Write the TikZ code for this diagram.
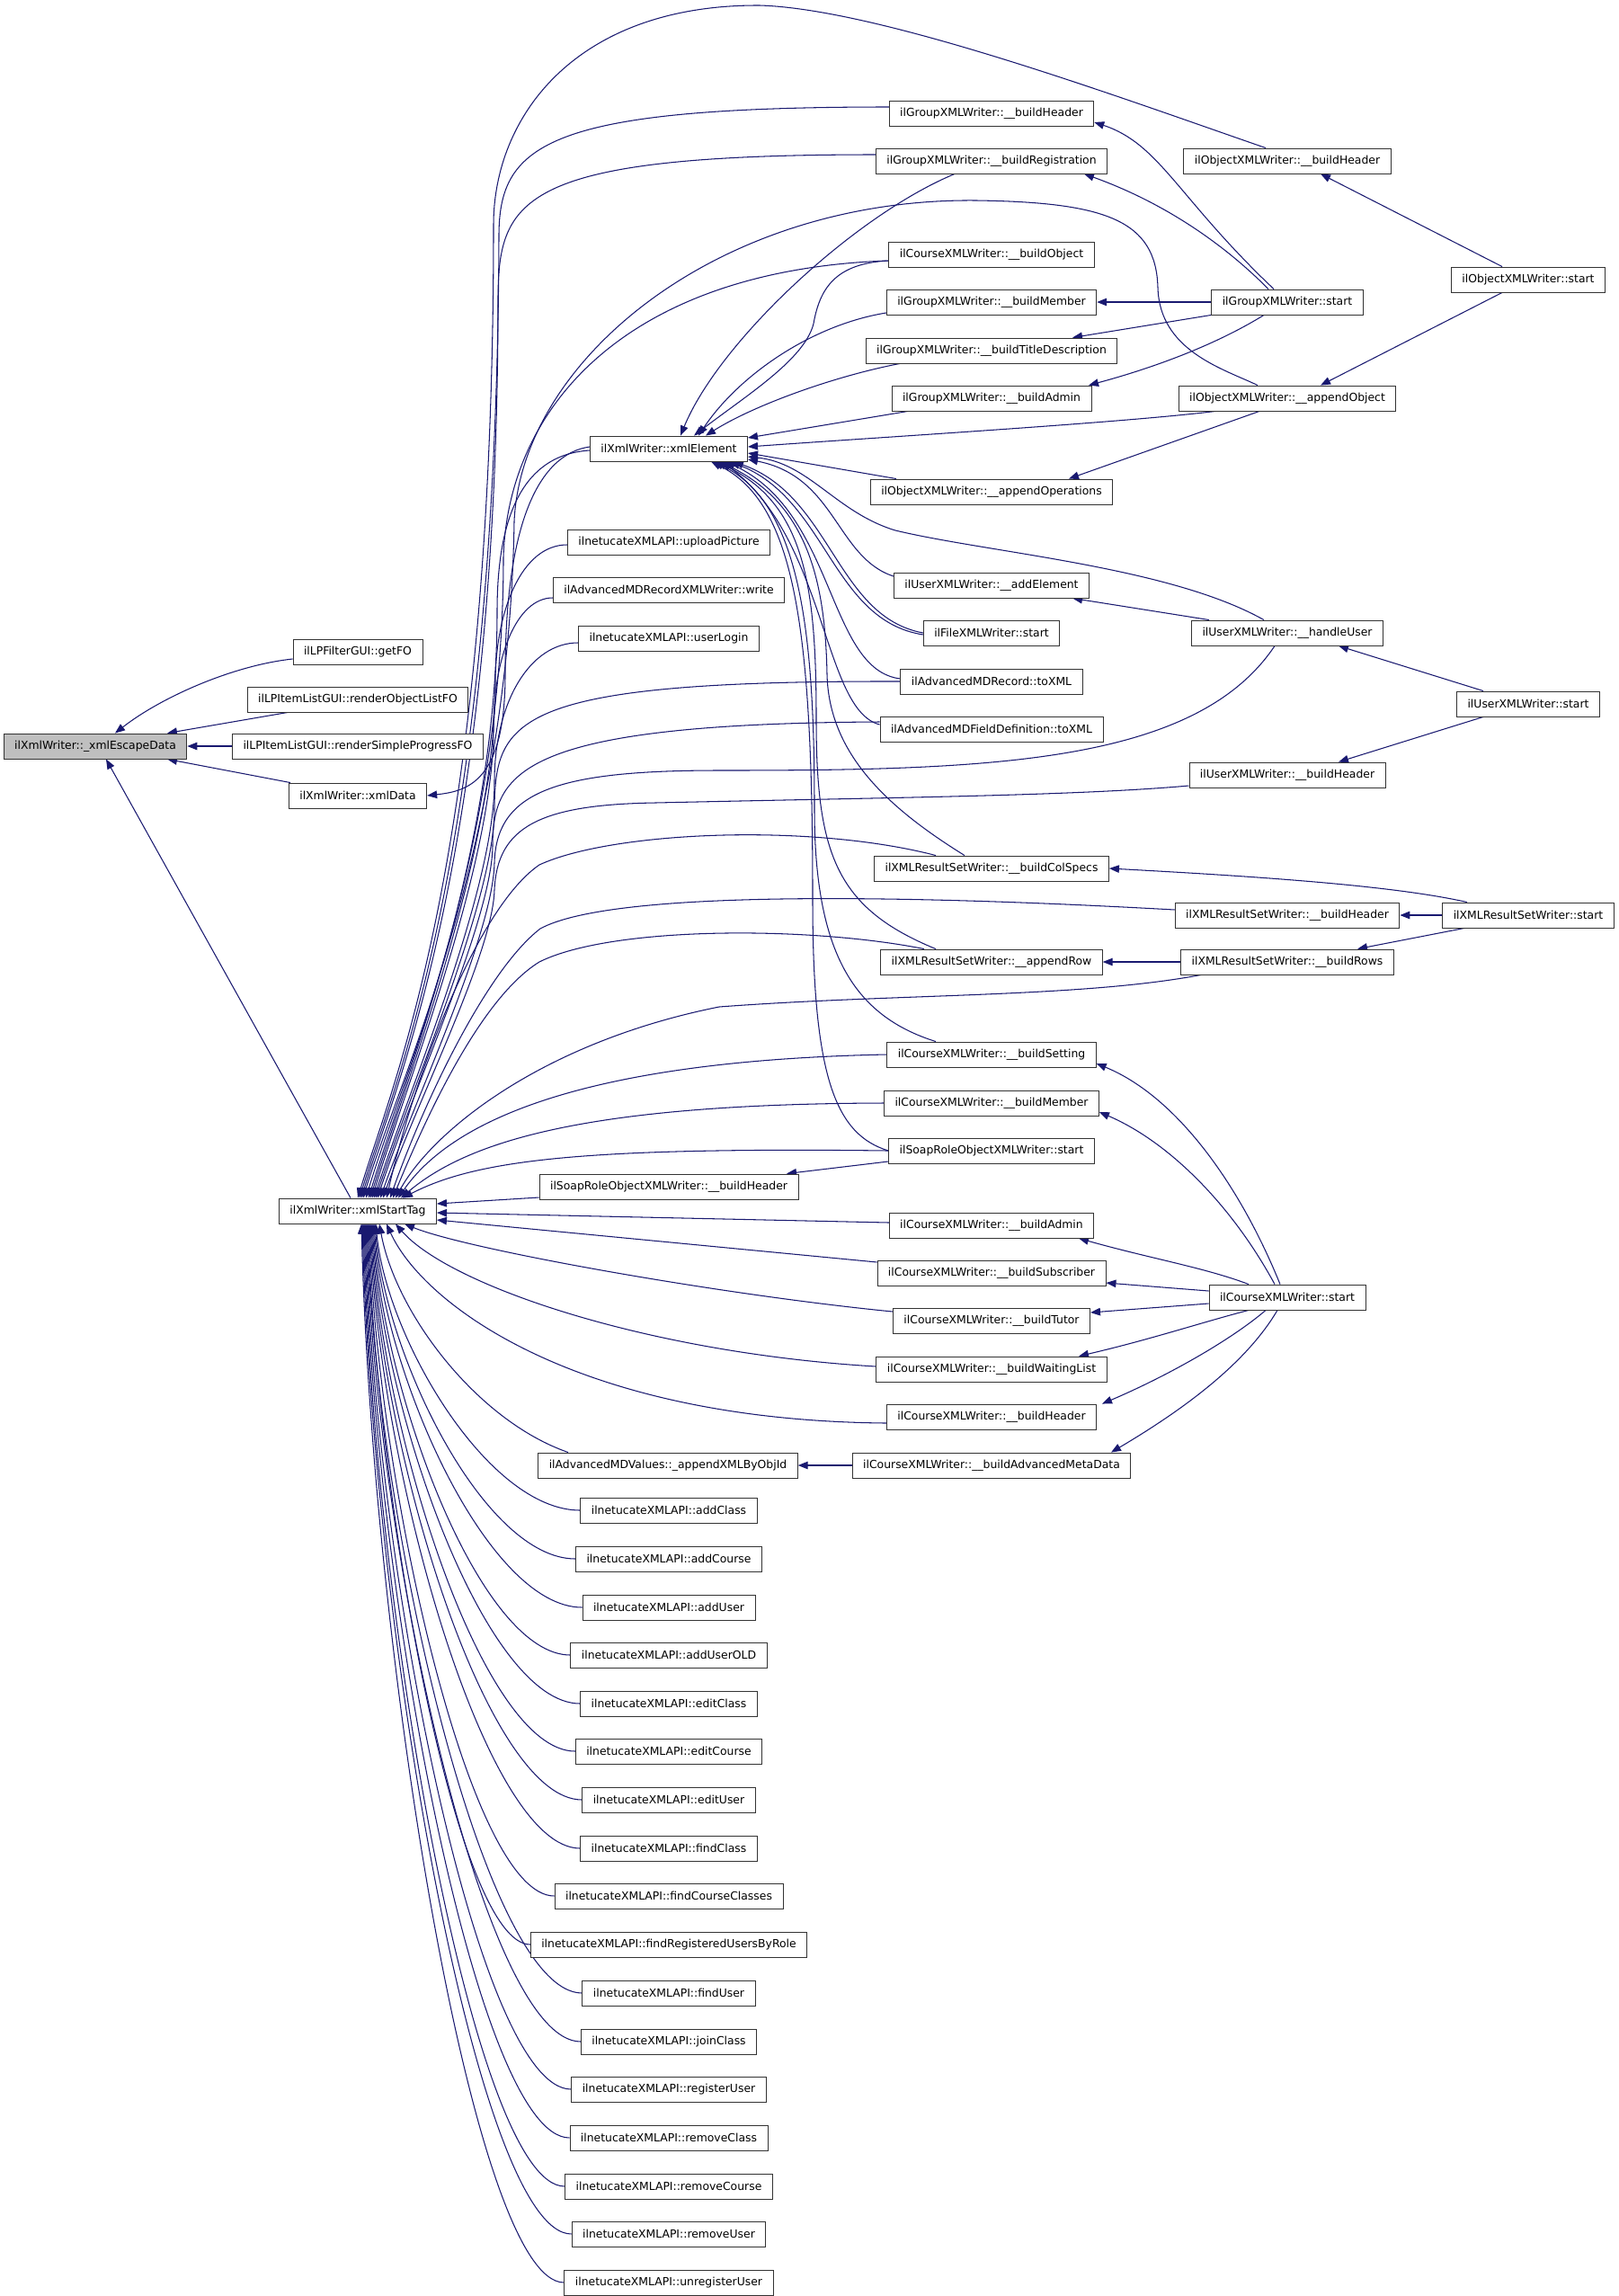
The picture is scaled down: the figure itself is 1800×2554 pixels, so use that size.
\documentclass[tikz,border=0pt]{standalone}
\usepackage{fontspec}
\setmainfont{DejaVu Sans}
\usetikzlibrary{arrows.meta}
\definecolor{edgec}{HTML}{191970}
\pgfdeclarelayer{bg}
\pgfsetlayers{bg,main}
\begin{document}
\begin{tikzpicture}[x=1pt,y=-1pt,
  box/.style={draw=black!80, line width=0.9pt, fill=white, inner xsep=12pt, inner ysep=0pt, minimum height=28pt, font=\fontsize{12.4}{15}\selectfont},
  edge/.style={draw=edgec, line width=1.05pt, <-, >={Triangle[length=11pt,width=8.5pt]}},
]
\useasboundingbox (0,0) rectangle (1800,2554);
% left
\node[box, fill=black!25] (esc) at (106,830) {ilXmlWriter::\_xmlEscapeData};
\node[box] (getfo) at (398,725) {ilLPFilterGUI::getFO};
\node[box] (rolfo) at (398,778) {ilLPItemListGUI::renderObjectListFO};
\node[box] (rspfo) at (398,830) {ilLPItemListGUI::renderSimpleProgressFO};
\node[box] (xdata) at (398,885) {ilXmlWriter::xmlData};
\node[box] (xst) at (398,1347) {ilXmlWriter::xmlStartTag};
% second column
\node[box] (xel) at (744,499) {ilXmlWriter::xmlElement};
\node[box] (upic) at (744,603) {ilnetucateXMLAPI::uploadPicture};
\node[box] (mdwrite) at (744,656) {ilAdvancedMDRecordXMLWriter::write};
\node[box] (ulogin) at (744,710) {ilnetucateXMLAPI::userLogin};
\node[box] (srhdr) at (744,1320) {ilSoapRoleObjectXMLWriter::\_\_buildHeader};
\node[box] (mdvals) at (743,1630) {ilAdvancedMDValues::\_appendXMLByObjId};
\foreach \n/\t/\y in {n1/addClass/1680, n2/addCourse/1734, n3/addUser/1788, n4/addUserOLD/1841,
  n5/editClass/1895, n6/editCourse/1948, n7/editUser/2002, n8/findClass/2056, n9/findCourseClasses/2109,
  n10/findRegisteredUsersByRole/2163, n11/findUser/2217, n12/joinClass/2271, n13/registerUser/2324,
  n14/removeClass/2378, n15/removeCourse/2432, n16/removeUser/2485, n17/unregisterUser/2539}
  {\node[box] (\n) at (744,\y) {ilnetucateXMLAPI::\t};}
% middle column
\node[box] (gbh) at (1103,126) {ilGroupXMLWriter::\_\_buildHeader};
\node[box] (regis) at (1103,179) {ilGroupXMLWriter::\_\_buildRegistration};
\node[box] (cobj) at (1103,283) {ilCourseXMLWriter::\_\_buildObject};
\node[box] (gmem) at (1103,336) {ilGroupXMLWriter::\_\_buildMember};
\node[box] (gtitle) at (1103,390) {ilGroupXMLWriter::\_\_buildTitleDescription};
\node[box] (gadmin) at (1103,443) {ilGroupXMLWriter::\_\_buildAdmin};
\node[box] (appops) at (1103,547) {ilObjectXMLWriter::\_\_appendOperations};
\node[box] (addel) at (1103,651) {ilUserXMLWriter::\_\_addElement};
\node[box] (fstart) at (1103,704) {ilFileXMLWriter::start};
\node[box] (mdrec) at (1103,758) {ilAdvancedMDRecord::toXML};
\node[box] (mdfd) at (1103,811) {ilAdvancedMDFieldDefinition::toXML};
\node[box] (colspec) at (1103,966) {ilXMLResultSetWriter::\_\_buildColSpecs};
\node[box] (approw) at (1103,1070) {ilXMLResultSetWriter::\_\_appendRow};
\node[box] (setting) at (1103,1173) {ilCourseXMLWriter::\_\_buildSetting};
\node[box] (cmem) at (1103,1227) {ilCourseXMLWriter::\_\_buildMember};
\node[box] (srstart) at (1103,1280) {ilSoapRoleObjectXMLWriter::start};
\node[box] (cadmin) at (1103,1363) {ilCourseXMLWriter::\_\_buildAdmin};
\node[box] (subs) at (1103,1416) {ilCourseXMLWriter::\_\_buildSubscriber};
\node[box] (tutor) at (1103,1469) {ilCourseXMLWriter::\_\_buildTutor};
\node[box] (wait) at (1103,1523) {ilCourseXMLWriter::\_\_buildWaitingList};
\node[box] (chdr) at (1103,1576) {ilCourseXMLWriter::\_\_buildHeader};
\node[box] (advmeta) at (1103,1630) {ilCourseXMLWriter::\_\_buildAdvancedMetaData};
% right column
\node[box] (objhdr) at (1432,179) {ilObjectXMLWriter::\_\_buildHeader};
\node[box] (gstart) at (1432,336) {ilGroupXMLWriter::start};
\node[box] (appobj) at (1432,443) {ilObjectXMLWriter::\_\_appendObject};
\node[box] (huser) at (1432,704) {ilUserXMLWriter::\_\_handleUser};
\node[box] (uhdr) at (1432,862) {ilUserXMLWriter::\_\_buildHeader};
\node[box] (rshdr) at (1432,1018) {ilXMLResultSetWriter::\_\_buildHeader};
\node[box] (rows) at (1432,1070) {ilXMLResultSetWriter::\_\_buildRows};
\node[box] (cstart) at (1432,1443) {ilCourseXMLWriter::start};
% far right
\node[box] (objstart) at (1700,311) {ilObjectXMLWriter::start};
\node[box] (ustart) at (1700,783) {ilUserXMLWriter::start};
\node[box] (rsstart) at (1700,1018) {ilXMLResultSetWriter::start};

\begin{pgfonlayer}{bg}
\fill[white] (0,0) rectangle (1800,2554);
% into _xmlEscapeData
\draw[edge] ([xshift=22]esc.north) .. controls (180,775) and (260,740) .. ([yshift=-8]getfo.west);
\draw[edge] ([xshift=80]esc.north) -- ([xshift=-78]rolfo.south);
\draw[edge] (esc.east) -- (rspfo.west);
\draw[edge] ([xshift=80]esc.south) -- ([xshift=-75]xdata.north);
\draw[edge] ([xshift=12]esc.south) -- ([xshift=-8]xst.north);
% into xmlData
\draw[edge] (xdata.east) .. controls (520,880) and (562,870) .. (562,750) .. controls (562,580) and (600,505) .. ([yshift=2]xel.west);
% into xmlStartTag from above
\draw[edge] ([xshift=0]xst.north) .. controls (438,1200) and (549,950) .. (549,250) .. controls (549,130) and (640,5) .. (845,6) .. controls (980,10) and (1250,110) .. ([xshift=-24]objhdr.north);
\draw[edge] ([xshift=2]xst.north) .. controls (440,1200) and (553,950) .. (555,260) .. controls (556,160) and (610,119) .. ([yshift=7]gbh.west);
\draw[edge] ([xshift=4]xst.north) .. controls (442,1200) and (554,950) .. (554,330) .. controls (555,220) and (580,172) .. ([yshift=7]regis.west);
\draw[edge] ([xshift=6]xst.north) .. controls (444,1200) and (566,950) .. (572,580) .. controls (580,400) and (800,220) .. (1086,223) .. controls (1230,225) and (1286,245) .. (1288,320) .. controls (1290,390) and (1360,410) .. ([xshift=-33]appobj.north);
\draw[edge] ([xshift=9]xst.north) .. controls (447,1200) and (560,950) .. (560,620) .. controls (565,450) and (700,300) .. ([yshift=-7]cobj.west);
\draw[edge] ([xshift=12]xst.north) .. controls (450,1200) and (553,950) .. (553,680) .. controls (553,560) and (590,505) .. ([yshift=-2]xel.west);
\draw[edge] ([xshift=14]xst.north) .. controls (452,1200) and (551,950) .. (551,760) .. controls (551,680) and (580,606) .. ([yshift=-3]upic.west);
\draw[edge] ([xshift=16]xst.north) .. controls (454,1200) and (549,960) .. (549,810) .. controls (549,730) and (575,665) .. ([yshift=-9]mdwrite.west);
\draw[edge] ([xshift=18]xst.north) .. controls (456,1210) and (550,990) .. (550,870) .. controls (550,780) and (590,715) .. ([yshift=-5]ulogin.west);
\draw[edge] ([xshift=20]xst.north) .. controls (458,1210) and (550,1000) .. (550,900) .. controls (551,800) and (570,757) .. (mdrec.west);
\draw[edge] ([xshift=22]xst.north) .. controls (460,1210) and (548,1020) .. (548,940) .. controls (549,860) and (575,805) .. ([yshift=8]mdfd.west);
\draw[edge] ([xshift=25]xst.north) .. controls (463,1220) and (548,1040) .. (550,960) .. controls (552,880) and (620,857) .. (800,857) .. controls (1100,857) and (1330,850) .. ([xshift=-14]huser.south);
\draw[edge] ([xshift=28]xst.north) .. controls (466,1220) and (548,1060) .. (550,990) .. controls (553,920) and (600,895) .. (729,893) .. controls (1000,887) and (1200,885) .. ([yshift=-12]uhdr.west);
\draw[edge] ([xshift=32]xst.north) .. controls (460,1200) and (530,1010) .. (600,962) .. controls (680,925) and (900,915) .. ([xshift=-62]colspec.north);
\draw[edge] ([xshift=36]xst.north) .. controls (470,1230) and (540,1080) .. (601,1033) .. controls (680,990) and (1000,995) .. ([yshift=6]rshdr.west);
\draw[edge] ([xshift=39]xst.north) .. controls (475,1240) and (535,1110) .. (600,1070) .. controls (680,1030) and (900,1030) .. ([xshift=-75]approw.north);
\draw[edge] ([xshift=42]xst.north) .. controls (480,1260) and (600,1160) .. (800,1120) .. controls (1000,1105) and (1200,1110) .. ([xshift=-96]rows.south);
\draw[edge] ([xshift=45]xst.north) .. controls (500,1250) and (640,1180) .. (setting.west);
\draw[edge] ([xshift=48]xst.north) .. controls (520,1270) and (650,1228) .. (cmem.west);
\draw[edge] ([xshift=50]xst.north) .. controls (530,1290) and (650,1276) .. (srstart.west);
% into xmlStartTag from the right
\draw[edge] ([yshift=8]xst.east) -- ([yshift=-12]srhdr.west);
\draw[edge] ([yshift=-2]xst.east) -- ([yshift=3]cadmin.west);
\draw[edge] ([yshift=-10]xst.east) -- ([yshift=12]subs.west);
% into xmlStartTag from below
\draw[edge] ([xshift=52]xst.south) .. controls (520,1390) and (800,1440) .. ([yshift=10]tutor.west);
\draw[edge] ([xshift=42]xst.south) .. controls (500,1430) and (720,1505) .. ([yshift=3]wait.west);
\draw[edge] ([xshift=32]xst.south) .. controls (470,1450) and (640,1580) .. ([yshift=-7]chdr.west);
\draw[edge] ([xshift=24]xst.south) .. controls (440,1460) and (530,1580) .. ([xshift=-111]mdvals.north);
\foreach \n/\y/\tx/\d in {n1/1680/645/20, n2/1734/639/19, n3/1788/647/18, n4/1841/633/17,
  n5/1895/645/16, n6/1948/639/15, n7/2002/647/14, n8/2056/645/13, n9/2109/615/12,
  n10/2163/590/11, n11/2217/647/10, n12/2271/646/9, n13/2324/634/8,
  n14/2378/632/7, n15/2432/627/6, n16/2485/634/5, n17/2539/626/4}
  {\draw[edge] ([xshift=\d]xst.south) .. controls ({410+\d},{1361+0.4*(\y-1361)}) and ({\tx-0.45*(\tx-398-\d)},\y) .. (\n.west);}
% into xmlElement
\draw[edge] ([xshift=13]xel.north) .. controls (800,380) and (950,240) .. ([xshift=-41]regis.south);
\draw[edge] ([xshift=28]xel.north) .. controls (830,440) and (895,400) .. (905,360) .. controls (912,320) and (930,293) .. ([yshift=-7]cobj.west);
\draw[edge] ([xshift=33]xel.north) .. controls (820,420) and (900,362) .. ([yshift=-12]gmem.west);
\draw[edge] ([xshift=41]xel.north) .. controls (840,450) and (930,418) .. ([xshift=-102]gtitle.south);
\draw[edge] ([yshift=12]xel.east) -- ([xshift=-93]gadmin.south);
\draw[edge] ([yshift=2]xel.east) .. controls (1000,485) and (1250,470) .. ([xshift=-80]appobj.south);
\draw[edge] ([yshift=-5]xel.east) -- ([xshift=-106]appops.north);
\draw[edge] ([yshift=-9]xel.east) .. controls (900,515) and (930,570) .. (996,590) .. controls (1100,615) and (1300,630) .. ([xshift=-26]huser.north);
\draw[edge] ([yshift=-12]xel.east) .. controls (930,530) and (930,620) .. ([yshift=10]addel.west);
\draw[edge] ([xshift=68]xel.south) .. controls (920,555) and (925,690) .. ([yshift=-2]fstart.west);
\draw[edge] ([xshift=72]xel.south) .. controls (925,552) and (930,686) .. (fstart.west);
\draw[edge] ([xshift=63]xel.south) .. controls (930,570) and (920,745) .. ([yshift=3]mdrec.west);
\draw[edge] ([xshift=59]xel.south) .. controls (920,600) and (915,790) .. ([yshift=5]mdfd.west);
\draw[edge] ([xshift=56]xel.south) .. controls (900,560) and (918,650) .. (920,750) .. controls (922,840) and (990,900) .. ([xshift=-30]colspec.north);
\draw[edge] ([xshift=53]xel.south) .. controls (895,560) and (908,650) .. (908,800) .. controls (908,950) and (930,1010) .. ([xshift=-62]approw.north);
\draw[edge] ([xshift=50]xel.south) .. controls (890,560) and (906,700) .. (906,900) .. controls (906,1060) and (950,1130) .. ([xshift=-62]setting.north);
\draw[edge] ([xshift=47]xel.south) .. controls (885,560) and (904,700) .. (904,1000) .. controls (904,1200) and (930,1262) .. (srstart.west);
% group writer
\draw[edge] ([yshift=-10]gbh.east) .. controls (1290,160) and (1310,220) .. ([xshift=-15]gstart.north);
\draw[edge] ([xshift=103]regis.south) .. controls (1280,220) and (1350,260) .. ([xshift=-21]gstart.north);
\draw[edge] (gmem.east) -- (gstart.west);
\draw[edge] ([xshift=90]gtitle.north) -- (gstart.south west);
\draw[edge] ([xshift=108]gadmin.north) .. controls (1280,410) and (1350,385) .. ([xshift=-26]gstart.south);
% object writer
\draw[edge] ([xshift=37]objhdr.south) -- ([xshift=-29]objstart.north);
\draw[edge] ([xshift=37]appobj.north) -- ([xshift=-29]objstart.south);
\draw[edge] ([xshift=86]appops.north) -- ([xshift=-31]appobj.south);
% user writer
\draw[edge] ([xshift=57]huser.south) -- ([xshift=-50]ustart.north);
\draw[edge] ([xshift=57]uhdr.north) -- ([xshift=-50]ustart.south);
\draw[edge] ([xshift=90]addel.south) -- ([xshift=-87]huser.north);
% result set writer
\draw[edge] (colspec.east) .. controls (1400,975) and (1550,985) .. ([xshift=-68]rsstart.north);
\draw[edge] (rshdr.east) -- (rsstart.west);
\draw[edge] ([xshift=78]rows.north) -- ([xshift=-71]rsstart.south);
\draw[edge] (approw.east) -- (rows.west);
% course writer
\draw[edge] ([yshift=-10]setting.east) .. controls (1310,1220) and (1380,1320) .. ([xshift=-8]cstart.north);
\draw[edge] ([yshift=-10]cmem.east) .. controls (1300,1270) and (1370,1340) .. ([xshift=-14]cstart.north);
\draw[edge] ([xshift=97]cadmin.south) .. controls (1280,1400) and (1340,1410) .. ([xshift=-43]cstart.north);
\draw[edge] ([yshift=-11]subs.east) -- ([yshift=7]cstart.west);
\draw[edge] ([yshift=9]tutor.east) -- ([yshift=-7]cstart.west);
\draw[edge] ([xshift=97]wait.north) .. controls (1280,1490) and (1340,1470) .. ([xshift=-43]cstart.south);
\draw[edge] ([xshift=123]chdr.north) .. controls (1300,1530) and (1370,1490) .. ([xshift=-24]cstart.south);
\draw[edge] ([xshift=133]advmeta.north) .. controls (1330,1560) and (1390,1510) .. ([xshift=-11]cstart.south);
\draw[edge] (mdvals.east) -- (advmeta.west);
\draw[edge] ([xshift=131]srhdr.north) -- ([yshift=-12]srstart.west);
\end{pgfonlayer}
\end{tikzpicture}
\end{document}
